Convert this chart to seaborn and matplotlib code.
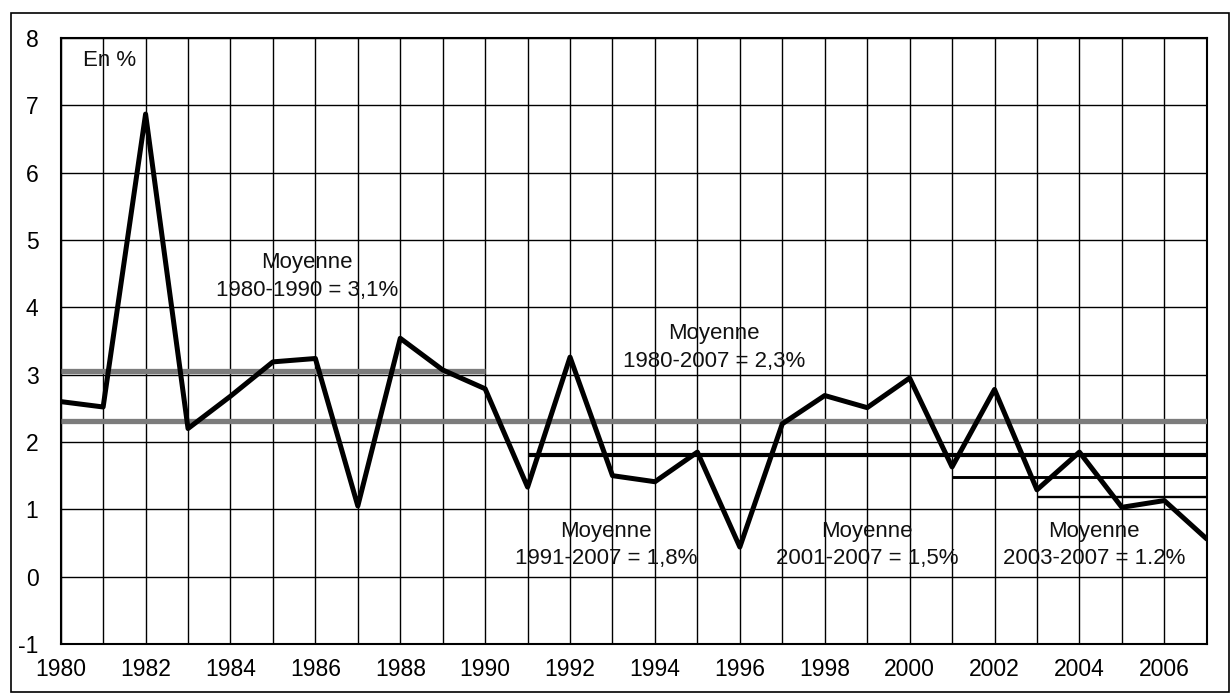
"""
plot.py
    Croissance annuelle 1980-2007 avec moyennes par periode
"""
import matplotlib
matplotlib.use("Agg")
import matplotlib.pyplot as plt
from matplotlib.patches import Rectangle
import seaborn as sns
import pandas as pd

# Data
years = list(range(1980, 2008))
values = [2.60, 2.52, 6.87, 2.20, 2.68, 3.19, 3.24, 1.05, 3.54, 3.07, 2.79,
          1.33, 3.26, 1.50, 1.41, 1.85, 0.44, 2.27, 2.69, 2.51, 2.95,
          1.63, 2.78, 1.29, 1.85, 1.03, 1.13, 0.56]

mean_starts = [1980, 1980, 1991, 2001, 2003]
mean_ends = [1990, 2007, 2007, 2007, 2007]
mean_values = [3.05, 2.31, 1.80, 1.48, 1.18]
mean_labels = ["Moyenne\n1980-1990 = 3,1%", "Moyenne\n1980-2007 = 2,3%",
               "Moyenne\n1991-2007 = 1,8%", "Moyenne\n2001-2007 = 1,5%",
               "Moyenne\n2003-2007 = 1.2%"]
label_x = [1985.8, 1995.4, 1992.85, 1999.0, 2004.35]
label_y = [4.46, 3.40, 0.47, 0.47, 0.47]

# Style of each mean line
mean_colors = ["#7c7c7c", "#7c7c7c", "black", "black", "black"]
mean_widths = [3.8, 3.8, 3.0, 2.1, 1.7]

sns.set_style("white")
plt.rcParams['font.family'] = ['Liberation Sans', 'DejaVu Sans']
plt.rcParams['axes.unicode_minus'] = False

df = pd.DataFrame({'annee': years, 'valeur': values})

fig = plt.figure(figsize=(12.31, 6.93), dpi=100)
ax = fig.add_axes([0.0493, 0.0707, 0.9310, 0.8745])

# mean lines
for s, e, v, c, w in zip(mean_starts, mean_ends, mean_values, mean_colors, mean_widths):
    ax.plot([s, e], [v, v], color=c, lw=w, solid_capstyle='butt', zorder=3)

sns.lineplot(data=df, x='annee', y='valeur', color='black', lw=3.6, ax=ax, zorder=4)

for x, y, t in zip(label_x, label_y, mean_labels):
    ax.text(x, y, t, ha='center', va='center', fontsize=16, linespacing=1.42,
            color='#111111', zorder=5)
ax.text(1980.52, 7.66, "En %", ha='left', va='center', fontsize=16, color='#111111')

ax.set_xlim(1980, 2007)
ax.set_ylim(-1, 8)
ax.set_xticks(range(1980, 2007, 2))
ax.set_xticks(range(1980, 2008), minor=True)
ax.set_yticks(range(-1, 9))
ax.grid(True, which='both', axis='x', color='black', lw=1.0)
ax.grid(True, which='major', axis='y', color='black', lw=1.0)
ax.tick_params(axis='both', which='both', length=0, labelsize=16.5, colors='black')
ax.tick_params(axis='y', pad=16)
ax.tick_params(axis='x', pad=10)
ax.set_xlabel('')
ax.set_ylabel('')
for sp in ax.spines.values():
    sp.set_color('black')
    sp.set_linewidth(1.5)

# outer frame
fig.patches.append(Rectangle((11 / 1231, 0.002), 1218 / 1231, 1 - 13 / 693 - 0.002,
                             transform=fig.transFigure, fill=False,
                             edgecolor='black', lw=1.2))

fig.savefig('out.png', dpi=100)
